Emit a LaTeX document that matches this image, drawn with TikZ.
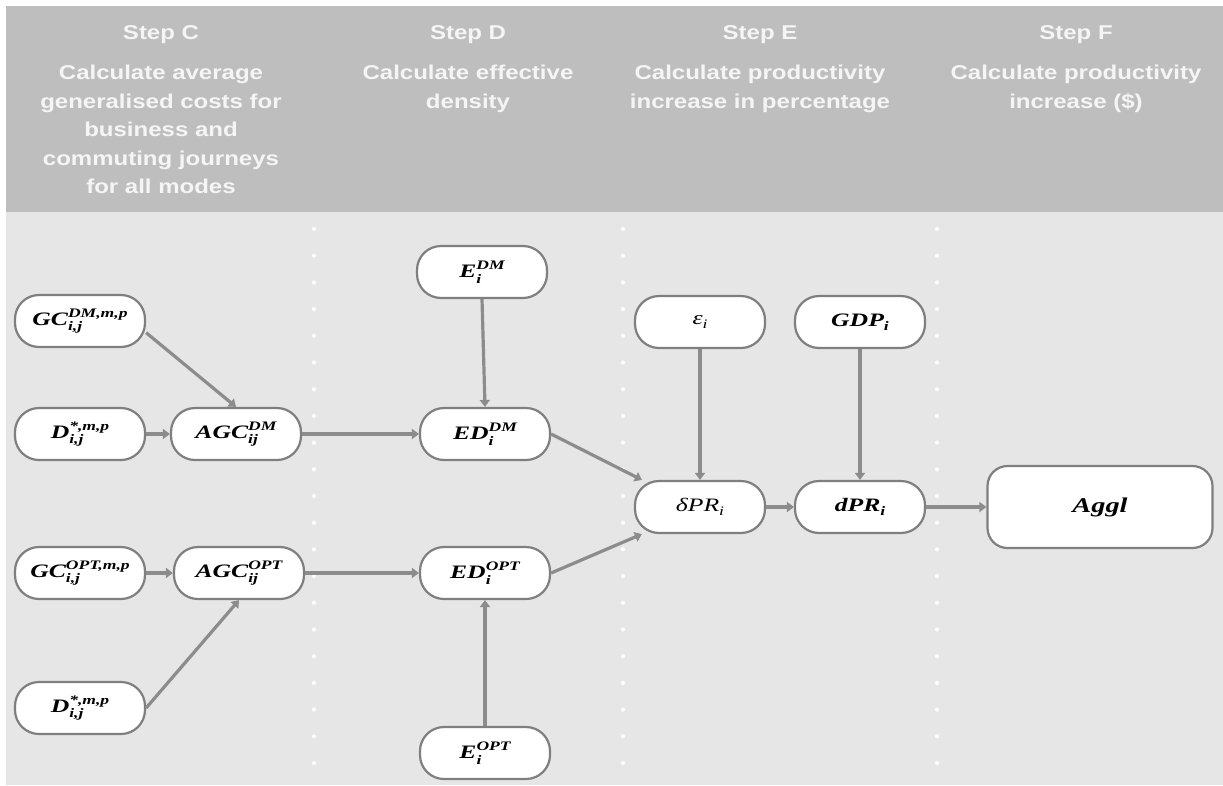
\documentclass[tikz,border=0pt]{standalone}
\usepackage{fontspec}
\usetikzlibrary{arrows.meta}
\newfontfamily\hdrfont{Liberation Sans}[FakeStretch=1.2,BoldFont={Liberation Sans Bold}]
\newfontfamily\varfont{Liberation Serif}[FakeStretch=1.35]
\definecolor{headgrey}{HTML}{BEBEBE}
\definecolor{bodygrey}{HTML}{E6E6E6}
\definecolor{headtext}{HTML}{F5F5F5}
\definecolor{edgegrey}{HTML}{7F7F7F}
\definecolor{arrowgrey}{HTML}{8C8C8C}
% base letter(s) with a stacked subscript and superscript
\newcommand\ssb[3]{#1{\fontsize{13}{13}\selectfont
  \setbox0=\hbox{#3}\setbox2=\hbox{#2}%
  \ifdim\wd0>\wd2 \dimen0=\wd0 \else \dimen0=\wd2 \fi
  \hbox to\dimen0{\rlap{\raise8pt\copy0}\lower5.5pt\copy2\hss}}}
\newcommand\sbonly[2]{#1{\fontsize{13}{13}\selectfont\lower4.5pt\hbox{#2}}}
\begin{document}
\begin{tikzpicture}[x=1pt,y=-1pt,
  steptitle/.style={text=headtext, inner sep=0pt, anchor=base,
    font=\hdrfont\bfseries\fontsize{20}{28.5}\selectfont},
  stepdesc/.style={text=headtext, inner sep=0pt, anchor=north, align=center,
    font=\hdrfont\bfseries\fontsize{20}{28.5}\selectfont},
  vnode/.style={draw=edgegrey, line width=2.2pt, fill=white, rounded corners=24pt,
    minimum width=130pt, minimum height=52pt, inner sep=0pt,
    font=\varfont\bfseries\itshape\fontsize{19}{21}\selectfont},
  plainvar/.style={font=\varfont\itshape\fontsize{19}{21}\selectfont},
  bignode/.style={vnode, minimum width=225pt, minimum height=82pt, rounded corners=20pt},
  conn/.style={draw=arrowgrey, line width=3.2pt, -{Triangle[length=7pt,width=10pt]}},
  sepdot/.style={fill=white, draw=none}
]
\useasboundingbox (0,0) rectangle (1223,785);
\fill[white] (0,0) rectangle (1223,785);
% header band and body
\fill[headgrey] (6,6) rectangle (1223,212);
\fill[bodygrey] (6,212) rectangle (1223,785);
% dotted column separators
\foreach \x in {314,623,937}
  \foreach \k in {0,...,20}
    \fill[sepdot] (\x,229+26.7*\k) circle (2pt);
% column headings
\node[steptitle] (tC) at (161,39) {Step C};
\node[steptitle] (tD) at (468,39) {Step D};
\node[steptitle] (tE) at (760,39) {Step E};
\node[steptitle] (tF) at (1076,39) {Step F};
\node[stepdesc] (dC) at (161,65) {Calculate average\\generalised costs for\\business and\\commuting journeys\\for all modes};
\node[stepdesc] (dD) at (468,65) {Calculate effective\\density};
\node[stepdesc] (dE) at (760,65) {Calculate productivity\\increase in percentage};
\node[stepdesc] (dF) at (1076,65) {Calculate productivity\\increase (\$)};
% Step C nodes
\node[vnode] (gcdm) at (80,321) {\ssb{GC}{i,j}{DM,m,p}};
\node[vnode] (ddm) at (80,434) {\ssb{D}{i,j}{*,m,p}};
\node[vnode] (agcdm) at (236,434) {\ssb{AGC}{ij}{DM}};
\node[vnode] (gcopt) at (80,573) {\ssb{GC}{i,j}{OPT,m,p}};
\node[vnode] (agcopt) at (239,573) {\ssb{AGC}{ij}{OPT}};
\node[vnode] (dopt) at (80,708) {\ssb{D}{i,j}{*,m,p}};
% Step D nodes
\node[vnode] (edm) at (482,272) {\ssb{E}{i}{DM}};
\node[vnode] (eddm) at (485,434) {\ssb{ED}{i}{DM}};
\node[vnode] (edopt) at (485,573) {\ssb{ED}{i}{OPT}};
\node[vnode] (eopt) at (485,753) {\ssb{E}{i}{OPT}};
% Step E nodes
\node[vnode, plainvar] (eps) at (700,322) {\sbonly{ε}{i}};
\node[vnode] (gdp) at (860,322) {\sbonly{GDP}{i}};
\node[vnode, plainvar] (spr) at (700,507) {\sbonly{δPR}{i}};
\node[vnode] (dpr) at (860,507) {\sbonly{dPR}{i}};
% Step F node
\node[bignode, font=\varfont\bfseries\itshape\fontsize{21}{23}\selectfont] (aggl) at (1100,507) {Aggl};
% connectors
\draw[conn] (gcdm.-10) -- (agcdm.north);
\draw[conn] (ddm.east) -- (agcdm.west);
\draw[conn] (agcdm.east) -- (eddm.west);
\draw[conn] (gcopt.east) -- (agcopt.west);
\draw[conn] (dopt.east) -- (agcopt.south);
\draw[conn] (agcopt.east) -- (edopt.west);
\draw[conn] (edm.south) -- (eddm.north);
\draw[conn] (eopt.north) -- (edopt.south);
\draw[conn] (eddm.east) -- (spr.155);
\draw[conn] (edopt.east) -- (spr.205);
\draw[conn] (eps.south) -- (spr.north);
\draw[conn] (gdp.south) -- (dpr.north);
\draw[conn] (spr.east) -- (dpr.west);
\draw[conn] (dpr.east) -- (aggl.west);
\end{tikzpicture}
\end{document}
